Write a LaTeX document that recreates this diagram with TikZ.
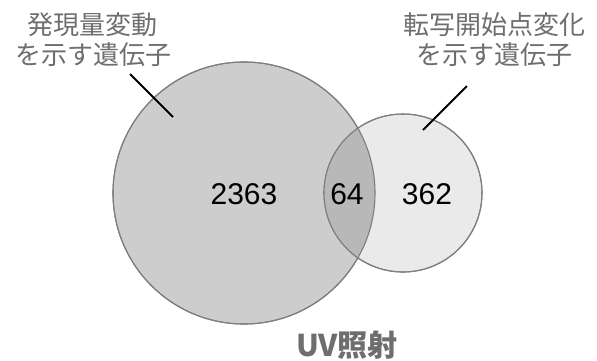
\documentclass[tikz,border=0pt]{standalone}
\usepackage{fontspec}
\setmainfont{Liberation Sans}
\newfontfamily\jp{Noto Sans CJK JP}
\definecolor{bigfill}{HTML}{CDCDCD}
\definecolor{smallfill}{HTML}{EAEAEA}
\definecolor{interfill}{HTML}{B8B8B8}
\definecolor{edge}{HTML}{7E7E7E}
\definecolor{labelgray}{HTML}{6E6E6E}
\tikzset{
  setcircle/.style={circle, draw=edge, line width=1.1pt, inner sep=0pt},
  count/.style={font=\fontsize{30}{36}\selectfont, text=black},
  setlabel/.style={font=\jp\fontsize{26}{30}\selectfont, text=labelgray, align=center, inner sep=0pt},
  leader/.style={line width=2pt, black},
}
\begin{document}
\begin{tikzpicture}[x=1pt,y=-1pt]
\useasboundingbox (0,0) rectangle (597,360);
% circles
\node[setcircle, fill=bigfill, minimum size=262pt] (big) at (244,193) {};
\node[setcircle, fill=smallfill, minimum size=158pt] (small) at (403,193) {};
\begin{scope}
  \clip (244,193) circle (131);
  \fill[interfill] (403,193) circle (79);
\end{scope}
\draw[edge, line width=1.1pt] (244,193) circle (131);
\draw[edge, line width=1.1pt] (403,193) circle (79);
% counts
\node[count] (n1) at (244,194) {2363};
\node[count] (n2) at (347,194) {64};
\node[count] (n3) at (427,194) {362};
% labels
\node[setlabel] (lab1) at (93,40) {発現量変動\\を示す遺伝子};
\node[setlabel] (lab2) at (494,40) {転写開始点変化\\を示す遺伝子};
\coordinate (l1a) at (130,74);
\coordinate (l1b) at (173,117);
\coordinate (l2a) at (467,86);
\coordinate (l2b) at (423,130);
\draw[leader] (l1a) -- (l1b);
\draw[leader] (l2a) -- (l2b);
% bottom title
\node[font=\jp\bfseries\fontsize{30}{34}\selectfont, text=labelgray, inner sep=0pt] (uv) at (347,345) {UV照射};
\end{tikzpicture}
\end{document}
